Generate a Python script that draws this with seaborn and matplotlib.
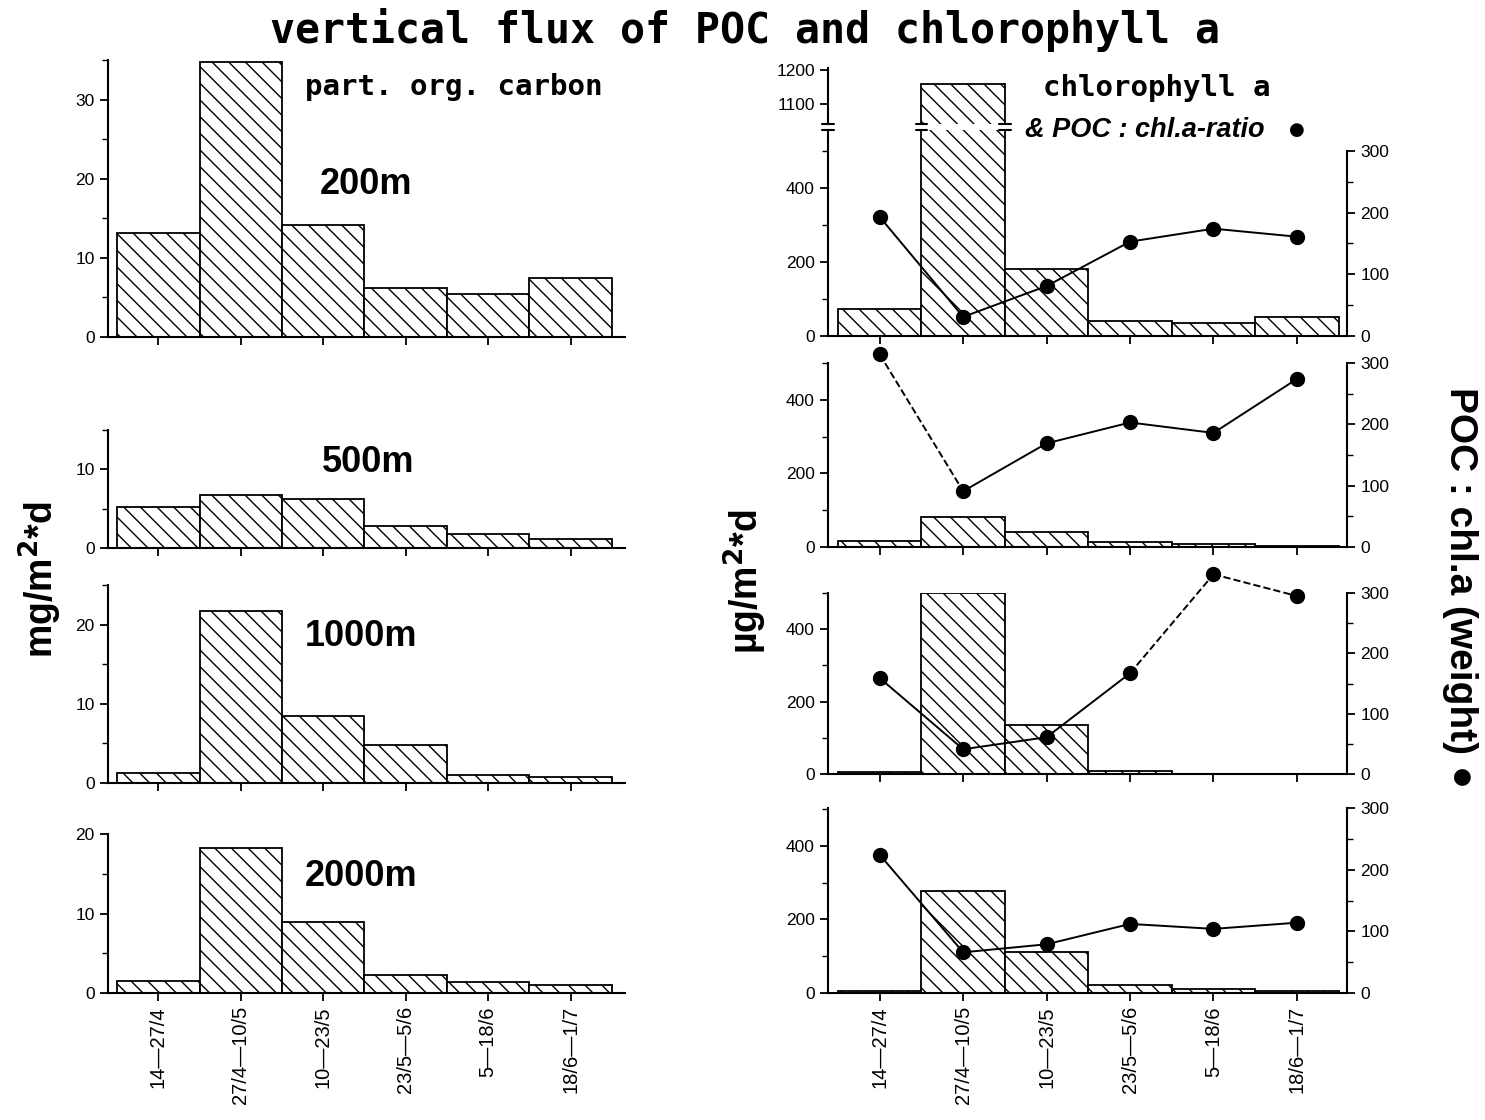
import numpy as np
import matplotlib
matplotlib.use("Agg")
import matplotlib.pyplot as plt
import seaborn as sns
from matplotlib.ticker import MultipleLocator, FixedLocator
from matplotlib.transforms import blended_transform_factory

# ---------------- data ----------------
periods = ["14—27/4", "27/4—10/5", "10—23/5", "23/5—5/6", "5—18/6", "18/6—1/7"]
depths = ["200m", "500m", "1000m", "2000m"]

poc_200 = [13.2, 34.7, 14.1, 6.2, 5.4, 7.4]
poc_500 = [5.2, 6.8, 6.2, 2.8, 1.8, 1.1]
poc_1000 = [1.3, 21.7, 8.5, 4.8, 1.0, 0.7]
poc_2000 = [1.5, 18.3, 8.9, 2.3, 1.4, 1.0]

chl_200 = [73, 1160, 181, 41, 35, 51]
chl_500 = [16, 81, 41, 14, 8, 3]
chl_1000 = [5, 500, 135, 8, 1, 0]
chl_2000 = [5, 277, 112, 22, 11, 5]

ratio_200 = [193, 31, 81, 153, 174, 161]
ratio_500 = [314, 91, 169, 203, 186, 274]
ratio_1000 = [159, 41, 61, 167, 331, 295]
ratio_2000 = [224, 66, 79, 112, 104, 114]

# line style of each segment between consecutive ratio points
seg_200 = ["-", "-", "-", "-", "-"]
seg_500 = ["--", "-", "-", "-", "-"]
seg_1000 = ["-", "-", "-", "--", "--"]
seg_2000 = ["-", "-", "-", "-", "-"]

poc_sets = [poc_200, poc_500, poc_1000, poc_2000]
chl_sets = [chl_200, chl_500, chl_1000, chl_2000]
ratio_sets = [ratio_200, ratio_500, ratio_1000, ratio_2000]
seg_sets = [seg_200, seg_500, seg_1000, seg_2000]

# ---------------- style ----------------
sns.set_style("ticks")
plt.rcParams["font.family"] = ["Liberation Sans", "DejaVu Sans"]
plt.rcParams["hatch.linewidth"] = 1.0
plt.rcParams["axes.linewidth"] = 1.5
for key in ["text.color", "axes.labelcolor", "xtick.color", "ytick.color",
            "axes.edgecolor", "hatch.color"]:
    plt.rcParams[key] = "black"

W, H = 1485, 1120
fig = plt.figure(figsize=(W / 100, H / 100), dpi=100)


def px_rect(x0, x1, ytop, ybot):
    return [x0 / W, 1 - ybot / H, (x1 - x0) / W, (ybot - ytop) / H]


HATCH = "\\\\"


def bars(ax, vals):
    sns.barplot(x=periods, y=vals, ax=ax, color="white", edgecolor="black",
                linewidth=1.3, width=1.0, saturation=1, hatch=HATCH,
                errorbar=None)
    ax.set_xlabel("")
    ax.set_ylabel("")


def style_axis(ax, bottom_labels):
    ax.spines["top"].set_visible(False)
    ax.spines["right"].set_visible(False)
    ax.tick_params(axis="both", which="major", direction="out", length=6,
                   width=1.3, labelsize=12.5, colors="black")
    ax.tick_params(axis="y", which="minor", direction="out", length=4, width=1)
    ax.set_xticks(range(len(periods)))
    if bottom_labels:
        ax.set_xticklabels(periods, rotation=90, fontsize=14.5)
    else:
        ax.tick_params(axis="x", labelbottom=False)


# ---------------- left column: POC ----------------
left_rects = [px_rect(108, 625, 60, 337), px_rect(108, 625, 430, 548),
              px_rect(108, 625, 585, 783), px_rect(108, 625, 834, 993)]
left_ylims = [35, 15, 25, 20]
left_xlim = (-0.61, 5.66)

for i, (rect, top) in enumerate(zip(left_rects, left_ylims)):
    ax = fig.add_axes(rect)
    bars(ax, poc_sets[i])
    ax.set_xlim(*left_xlim)
    ax.set_ylim(0, top)
    ax.yaxis.set_major_locator(MultipleLocator(10))
    ax.yaxis.set_minor_locator(MultipleLocator(5))
    style_axis(ax, bottom_labels=(i == 3))

# ---------------- right column: chlorophyll a ----------------
right_xlim = (-0.62, 5.6)
right_rects = [px_rect(828, 1347, 130, 336), px_rect(828, 1347, 363, 547),
               px_rect(828, 1347, 593, 774), px_rect(828, 1347, 808, 993)]
right_ylims = [557, 500, 500, 503]
twin_tops = [334, 300, 300, 300]

for i, rect in enumerate(right_rects):
    ax = fig.add_axes(rect)
    bars(ax, chl_sets[i])
    ax.set_xlim(*right_xlim)
    ax.set_ylim(0, right_ylims[i])
    ax.yaxis.set_major_locator(FixedLocator([0, 200, 400]))
    ax.yaxis.set_minor_locator(FixedLocator([100, 300, 500]))
    style_axis(ax, bottom_labels=(i == 3))

    ax2 = ax.twinx()
    ax2.set_ylim(0, twin_tops[i])
    ax2.set_xlim(*right_xlim)
    for s in ["top", "left", "bottom"]:
        ax2.spines[s].set_visible(False)
    ax2.spines["right"].set_bounds(0, 300)
    ax2.yaxis.set_major_locator(FixedLocator([0, 100, 200, 300]))
    ax2.yaxis.set_minor_locator(FixedLocator([50, 150, 250]))
    ax2.tick_params(axis="y", which="major", direction="out", length=6,
                    width=1.3, labelsize=12.5, colors="black")
    ax2.tick_params(axis="y", which="minor", direction="out", length=4, width=1)
    xs = np.arange(len(periods))
    r = ratio_sets[i]
    for k, ls in enumerate(seg_sets[i]):
        ax2.plot(xs[k:k + 2], r[k:k + 2], color="black", lw=1.4, ls=ls,
                 clip_on=False, zorder=3)
    ax2.plot(xs, r, ls="none", marker="o", ms=10, color="black",
             clip_on=False, zorder=4)

    if i == 0:
        # upper broken part of the axis
        axu = fig.add_axes(px_rect(828, 1347, 68, 124))
        bars(axu, chl_200)
        axu.set_xlim(*right_xlim)
        axu.set_ylim(1043, 1206)
        for s in ["top", "right", "bottom"]:
            axu.spines[s].set_visible(False)
        axu.set_xticks([])
        axu.yaxis.set_major_locator(FixedLocator([1100, 1200]))
        axu.tick_params(axis="y", which="major", direction="out", length=6,
                        width=1.3, labelsize=12.5, colors="black")
        # break marks
        for a, yy in [(ax, 1.0), (axu, 0.0)]:
            tr = blended_transform_factory(a.transData, a.transAxes)
            for xb in [right_xlim[0], 0.5, 1.5]:
                a.plot([xb - 0.07, xb + 0.07], [yy, yy], color="black",
                       lw=1.5, transform=tr, clip_on=False, zorder=5)

# ---------------- texts ----------------
fig.text(0.502, 0.973, "vertical flux of POC and chlorophyll a",
         ha="center", va="center", fontsize=30, fontweight="bold",
         family=["DejaVu Sans Mono"])
fig.text(305 / W, 1 - 87 / H, "part. org. carbon", ha="left", va="center",
         fontsize=21, fontweight="bold", family=["DejaVu Sans Mono"])
fig.text(1043 / W, 1 - 88 / H, "chlorophyll a", ha="left", va="center",
         fontsize=21, fontweight="bold", family=["DejaVu Sans Mono"])
fig.text(1025 / W, 1 - 130 / H, "& POC : chl.a-ratio", ha="left",
         va="center", fontsize=19.5, fontstyle="italic", fontweight="bold")
fig.text(1297 / W, 1 - 130 / H, "●", ha="center", va="center", fontsize=13,
         family=["DejaVu Sans"])

depth_pos = [(320, 185), (322, 463), (305, 636), (305, 877)]
for d, (x, y) in zip(depths, depth_pos):
    fig.text(x / W, 1 - y / H, d, ha="left", va="center", fontsize=26,
             fontweight="bold")

fig.text(40 / W, 1 - 580 / H, "mg/m$^\\mathbf{2}$*d", rotation=90,
         ha="center", va="center", fontsize=27, fontweight="bold")
fig.text(745 / W, 1 - 582 / H, "µg/m$^\\mathbf{2}$*d", rotation=90,
         ha="center", va="center", fontsize=27, fontweight="bold")
fig.text(1460 / W, 1 - 588 / H, "POC : chl.a (weight) ●", rotation=-90,
         ha="center", va="center", fontsize=28, fontweight="bold")

fig.savefig("out.png", dpi=100, facecolor="white")
